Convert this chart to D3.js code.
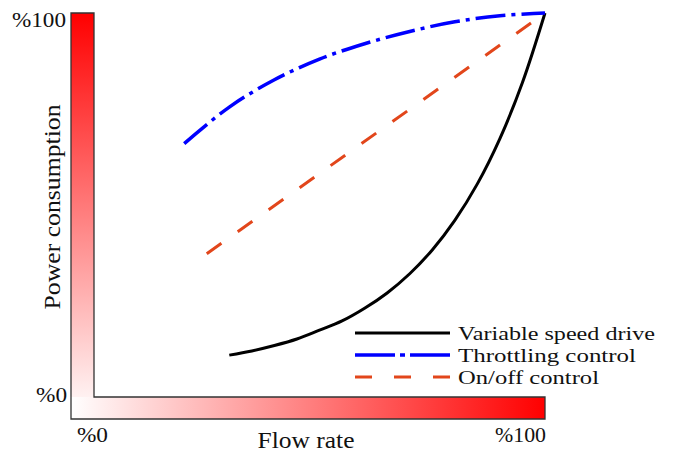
<!DOCTYPE html>
<html>
<head>
<meta charset="utf-8">
<script src="https://cdn.jsdelivr.net/npm/d3@7"></script>
<style>
  html, body { margin: 0; padding: 0; background: #fff; }
  svg { display: block; }
</style>
</head>
<body>
<svg id="chart" width="677" height="453"></svg>
<script>
// ---- data (percent of rated flow -> percent of power) ----
const vsdFlow   = [30, 35, 40, 45, 50, 55, 60, 65, 70, 75, 80, 85, 90, 95, 100];
const vsdPower  = [10.9, 12.0, 13.4, 15.1, 17.4, 19.8, 23.1, 27.1, 32.1, 38.3, 46.0, 55.5, 67.3, 81.9, 100];
const thrFlow   = [20, 30, 40, 50, 60, 70, 80, 90, 100];
const thrPower  = [66, 75.5, 82.6, 88, 92, 95.2, 97.7, 99.3, 100];
const onoffFlow  = [25, 100];
const onoffPower = [37.3, 100];
const seriesNames = ["Variable speed drive", "Throttling control", "On/off control"];
const xTickLabels = ["%0", "%100"];
const yTickLabels = ["%0", "%100"];
const xTitle = "Flow rate";
const yTitle = "Power consumption";

const svg = d3.select("#chart");
const x = d3.scaleLinear().domain([0, 100]).range([94, 545]);
const y = d3.scaleLinear().domain([0, 100]).range([397, 13]);
const barW = 22;

const defs = svg.append("defs");
const gv = defs.append("linearGradient").attr("id", "gv")
  .attr("x1", 0).attr("y1", 0).attr("x2", 0).attr("y2", 1);
gv.append("stop").attr("offset", "0%").attr("stop-color", "#ff0000");
gv.append("stop").attr("offset", "100%").attr("stop-color", "#ffffff");
const gh = defs.append("linearGradient").attr("id", "gh")
  .attr("x1", 0).attr("y1", 0).attr("x2", 1).attr("y2", 0);
gh.append("stop").attr("offset", "0%").attr("stop-color", "#ffffff");
gh.append("stop").attr("offset", "100%").attr("stop-color", "#ff0000");

const xl = x(0) - barW - 1, xr = x(100), yt = y(100), yb = y(0) + barW;
svg.append("rect").attr("x", xl).attr("y", yt).attr("width", x(0) - xl).attr("height", yb - yt)
  .attr("fill", "url(#gv)");
svg.append("rect").attr("x", xl).attr("y", y(0)).attr("width", xr - xl).attr("height", barW)
  .attr("fill", "url(#gh)");
svg.append("path")
  .attr("d", `M${xl},${yt}H${x(0)}V${y(0)}H${xr}V${yb}H${xl}Z`)
  .attr("fill", "none").attr("stroke", "#333").attr("stroke-width", 1.3);

// ---- curves ----
const line = d3.line().x(d => x(d[0])).y(d => y(d[1])).curve(d3.curveCatmullRom.alpha(0.5));
const styles = [
  { color: "#000000", dash: null, w: 3 },
  { color: "#0000ff", dash: "30,6,4,6", w: 3.5 },
  { color: "#e2461b", dash: "18,20", w: 3 }
];
const series = [
  d3.zip(vsdFlow, vsdPower),
  d3.zip(thrFlow, thrPower),
  d3.zip(onoffFlow, onoffPower)
];
series.forEach((s, i) => {
  svg.append("path").attr("d", line(s))
    .attr("fill", "none").attr("stroke", styles[i].color)
    .attr("stroke-width", styles[i].w)
    .attr("stroke-dasharray", styles[i].dash);
});

// ---- text helper ----
function txt(str, px, py, size, anchor, len, rot) {
  const t = svg.append("text")
    .attr("transform", `translate(${px},${py})` + (rot ? ` rotate(${rot})` : ""))
    .attr("text-anchor", anchor || "start")
    .attr("font-family", "'Liberation Serif', 'Times New Roman', serif")
    .attr("font-size", size)
    .attr("fill", "#111")
    .text(str);
  if (len) t.attr("textLength", len).attr("lengthAdjust", "spacingAndGlyphs");
  return t;
}

// tick labels
txt(yTickLabels[1], 66, 27, 21, "end", 54);
txt(yTickLabels[0], 67, 402, 21, "end", 31);
txt(xTickLabels[0], 77, 442, 21, "start", 31);
txt(xTickLabels[1], 546, 442, 21, "end", 51);

// axis titles
txt(xTitle, 306, 448, 23, "middle", 97);
txt(yTitle, 60, 207, 23, "middle", 205, -90);

// ---- legend ----
const legY = [333, 355, 377];
const legLen = [197, 178, 141];
seriesNames.forEach((n, i) => {
  svg.append("line").attr("x1", 355).attr("x2", 450)
    .attr("y1", legY[i]).attr("y2", legY[i])
    .attr("stroke", styles[i].color).attr("stroke-width", styles[i].w)
    .attr("stroke-dasharray", i === 1 ? "40,5,5,5" : (i === 2 ? "17,22" : null));
  txt(n, 458, legY[i] + 7, 19.5, "start", legLen[i]);
});
</script>
</body>
</html>
